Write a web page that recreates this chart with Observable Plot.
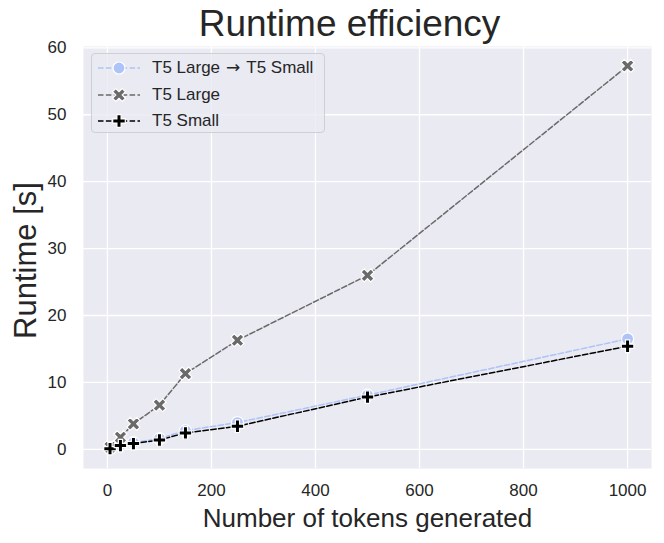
<!DOCTYPE html>
<html>
<head>
<meta charset="utf-8">
<script src="https://cdn.jsdelivr.net/npm/d3@7"></script>
<script src="https://cdn.jsdelivr.net/npm/@observablehq/plot@0.6"></script>
<style>
  html, body { margin: 0; padding: 0; background: #ffffff; }
  #wrap { position: relative; width: 664px; height: 543px; font-family: "Liberation Sans", Arial, sans-serif; }
  #legend {
    position: absolute; left: 91px; top: 53px; width: 234px; height: 80px;
    background: rgba(234,234,242,0.8); border: 1px solid #cfcfd6; border-radius: 4px;
    box-sizing: border-box;
  }
  .row { position: absolute; left: 0; height: 26px; display: flex; align-items: center; }
  .row svg { display: block; }
  .row .lbl { font-size: 17px; color: #262626; margin-left: 8px; white-space: pre; }
  .row .lbl .arrow { font-family: "DejaVu Sans", sans-serif; font-size: 17px; padding: 0 6px; line-height: 1; }
</style>
</head>
<body>
<div id="wrap"><div id="legend"></div></div>
<script>
// ---- data ----
const tokens = [5, 25, 50, 100, 150, 250, 500, 1000];
const largeToSmall = [0.2, 0.65, 1.0, 1.6, 2.8, 4.0, 8.1, 16.5];
const t5Large = [0.3, 1.8, 3.8, 6.6, 11.3, 16.3, 26.0, 57.3];
const t5Small = [0.1, 0.55, 0.85, 1.4, 2.45, 3.45, 7.8, 15.4];
const seriesNames = ["T5 Large \u2192 T5 Small", "T5 Large", "T5 Small"];
const xTicks = [0, 200, 400, 600, 800, 1000];
const yTicks = [0, 10, 20, 30, 40, 50, 60];
const titleText = "Runtime efficiency";
const xLabel = "Number of tokens generated";
const yLabel = "Runtime [s]";

// ---- styles ----
const colors = ["#aec3f8", "#6a6a6a", "#000000"];
const dash = "5.5,2.4";
const textColor = "#262626";

// filled plus / X symbols (matplotlib "P" and "X")
function crossPath(ctx, L, w, rot) {
  const pts = [[-w,-L],[-w,-w],[-L,-w],[-L,w],[-w,w],[-w,L],[w,L],[w,w],[L,w],[L,-w],[w,-w],[w,-L]];
  const c = Math.cos(rot), s = Math.sin(rot);
  pts.forEach(([x, y], i) => {
    const X = x * c - y * s, Y = x * s + y * c;
    if (i === 0) ctx.moveTo(X, Y); else ctx.lineTo(X, Y);
  });
  ctx.closePath();
}
const plusSymbol = { draw(ctx, size) { const r = Math.sqrt(size / Math.PI); crossPath(ctx, r, r / 3, 0); } };
const xSymbol = { draw(ctx, size) { const r = Math.sqrt(size / Math.PI); crossPath(ctx, r, r / 3, Math.PI / 4); } };
const symbols = ["circle", xSymbol, plusSymbol];
const radii = [6, 6.9, 6.3];

const seriesValues = [largeToSmall, t5Large, t5Small];
const tables = seriesValues.map(vals => tokens.map((t, i) => ({ x: t, y: vals[i] })));

const fmt = d => String(d);
const marks = [
  Plot.frame({ fill: "#eaeaf2", stroke: null }),
  Plot.gridX(xTicks, { stroke: "white", strokeOpacity: 1, strokeWidth: 1.3 }),
  Plot.gridY(yTicks, { stroke: "white", strokeOpacity: 1, strokeWidth: 1.3 }),
  Plot.axisX(xTicks, { tickSize: 0, tickPadding: 15, fontSize: 17, fill: textColor, label: null, tickFormat: fmt }),
  Plot.axisY(yTicks, { tickSize: 0, tickPadding: 17, fontSize: 17, fill: textColor, label: null, tickFormat: fmt }),
];
tables.forEach((tbl, k) => {
  marks.push(Plot.line(tbl, { x: "x", y: "y", stroke: colors[k], strokeWidth: 1.5, strokeDasharray: dash }));
  marks.push(Plot.dot(tbl, { x: "x", y: "y", symbol: () => symbols[k], r: radii[k], fill: colors[k], stroke: "white", strokeWidth: 1.2 }));
});
marks.push(
  Plot.text([titleText], { frameAnchor: "top", dx: -18, dy: -22, fontSize: 37, fill: textColor, lineAnchor: "middle", textAnchor: "middle" }),
  Plot.text([xLabel], { frameAnchor: "bottom", dy: 50, fontSize: 26, fill: textColor, lineAnchor: "middle", textAnchor: "middle" }),
  Plot.text([yLabel], { frameAnchor: "left", dx: -57, dy: 3, rotate: -90, fontSize: 31, fill: textColor, lineAnchor: "middle", textAnchor: "middle" })
);

const chart = Plot.plot({
  width: 664,
  height: 543,
  marginLeft: 83,
  marginRight: 13,
  marginTop: 46,
  marginBottom: 75,
  style: { fontFamily: "'Liberation Sans', Arial, sans-serif", background: "white", overflow: "visible" },
  x: { domain: [-46, 1046] },
  y: { domain: [-2.87, 60.2] },
  symbol: { type: "identity" },
  marks
});
const wrap = document.getElementById("wrap");
wrap.insertBefore(chart, wrap.firstChild);

// ---- legend ----
const legend = document.getElementById("legend");
const rowTops = [1, 28, 54];
seriesNames.forEach((name, k) => {
  const row = document.createElement("div");
  row.className = "row";
  row.style.top = rowTops[k] + "px";
  const svgNS = "http://www.w3.org/2000/svg";
  const svg = document.createElementNS(svgNS, "svg");
  svg.setAttribute("width", "52"); svg.setAttribute("height", "26");
  const line = document.createElementNS(svgNS, "line");
  line.setAttribute("x1", "6"); line.setAttribute("x2", "48");
  line.setAttribute("y1", "13"); line.setAttribute("y2", "13");
  line.setAttribute("stroke", colors[k]); line.setAttribute("stroke-width", "1.5");
  line.setAttribute("stroke-dasharray", dash);
  svg.appendChild(line);
  const p = d3.path();
  if (symbols[k] === "circle") { p.arc(0, 0, radii[k], 0, 2 * Math.PI); }
  else symbols[k].draw(p, Math.PI * radii[k] * radii[k]);
  const path = document.createElementNS(svgNS, "path");
  path.setAttribute("d", p.toString());
  path.setAttribute("transform", "translate(27,13)");
  path.setAttribute("fill", colors[k]); path.setAttribute("stroke", "white"); path.setAttribute("stroke-width", "1.2");
  svg.appendChild(path);
  row.appendChild(svg);
  const span = document.createElement("span");
  span.className = "lbl";
  name.split("\u2192").forEach((part, i, arr) => {
    span.appendChild(document.createTextNode(part.trim()));
    if (i < arr.length - 1) {
      const a = document.createElement("span");
      a.className = "arrow";
      a.textContent = "\u2192";
      span.appendChild(a);
    }
  });
  row.appendChild(span);
  legend.appendChild(row);
});
</script>
</body>
</html>
